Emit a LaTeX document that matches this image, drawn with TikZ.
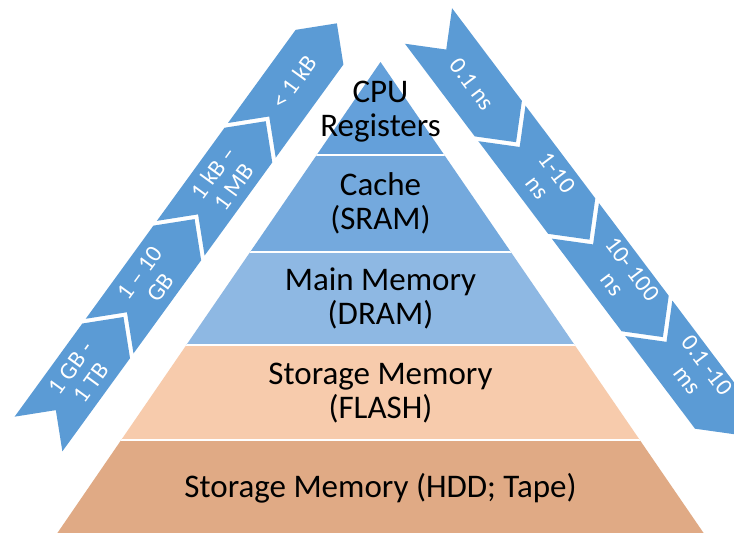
\documentclass[tikz,border=0pt]{standalone}
\usepackage{fontspec}
\setmainfont{Carlito}

\definecolor{chevblue}{HTML}{5B9BD5}
\definecolor{regblue}{HTML}{64A0DA}
\definecolor{sramblue}{HTML}{74A9DD}
\definecolor{dramblue}{HTML}{8EB8E3}
\definecolor{flashpeach}{HTML}{F7CBAC}
\definecolor{hddtan}{HTML}{E0AA85}

\begin{document}
\begin{tikzpicture}[
    x=1pt, y=1pt,
    band/.style={font=\fontsize{33}{34}\selectfont, align=center, text=black},
    chev/.style={fill=chevblue},
    tag/.style={font=\fontsize{24}{25}\selectfont, align=center, text=white},
    sep/.style={white, line width=2pt},
]

% Рамка
\clip (0,0) rectangle (734,533);
\fill[white] (0,0) rectangle (734,533);

% Пирамида: вершина и основание
\coordinate (apex) at (380.5,471);
\coordinate (baseL) at (57.4,0);
\coordinate (baseR) at (703.6,0);

\begin{scope}
  \clip (apex) -- (baseL) -- (baseR) -- cycle;
  \fill[hddtan] (0,0) rectangle (734,93);
  \fill[flashpeach] (0,93) rectangle (734,188);
  \fill[dramblue] (0,188) rectangle (734,281);
  \fill[sramblue] (0,281) rectangle (734,378);
  \fill[regblue] (0,378) rectangle (734,471);
  % Разделители уровней
  \foreach \yy in {93,188,281,378}
    \draw[sep] (0,\yy) -- (734,\yy);
\end{scope}

% Уровни памяти
\node[band] (cpu) at (380.5,421) {CPU\\Registers};
\node[band] (cache) at (380.5,330) {Cache\\(SRAM)};
\node[band] (dram) at (380.5,235) {Main Memory\\(DRAM)};
\node[band] (flash) at (380.5,140) {Storage Memory\\(FLASH)};
\node[band] (hdd) at (380.5,45) {Storage Memory (HDD; Tape)};

% Слева: объём
\begin{scope}[shift={(38.5,99)}, rotate=54, transform shape]
  \foreach \s in {0,121,242,363}
    \fill[chev] (\s,-29.5) -- ++(115.1,0) -- ++(29.5,29.5) -- ++(-29.5,29.5)
      -- ++(-115.1,0) -- ++(29.5,-29.5) -- cycle;
  \node[tag] (sz1) at (72.3,0) {1 GB -\\1 TB};
  \node[tag] (sz2) at (190,0) {1 -- 10\\GB};
  \node[tag] (sz3) at (314.3,0) {1 kB --\\1 MB};
  \node[tag] (sz4) at (435.3,0) {< 1 kB};
\end{scope}

% Справа: время доступа
\begin{scope}[shift={(428.5,507)}, rotate=-53, transform shape]
  \foreach \s in {0,122,244,366}
    \fill[chev] (\s,-29.5) -- ++(116,0) -- ++(29.5,29.5) -- ++(-29.5,29.5)
      -- ++(-116,0) -- ++(29.5,-29.5) -- cycle;
  \node[tag] (lt1) at (72.8,0) {0.1 ns};
  \node[tag] (lt2) at (194.8,2) {1-10\\ns};
  \node[tag] (lt3) at (316.8,4) {10- 100\\ns};
  \node[tag] (lt4) at (438.8,6) {0.1 -10\\ms};
\end{scope}

\end{tikzpicture}
\end{document}
